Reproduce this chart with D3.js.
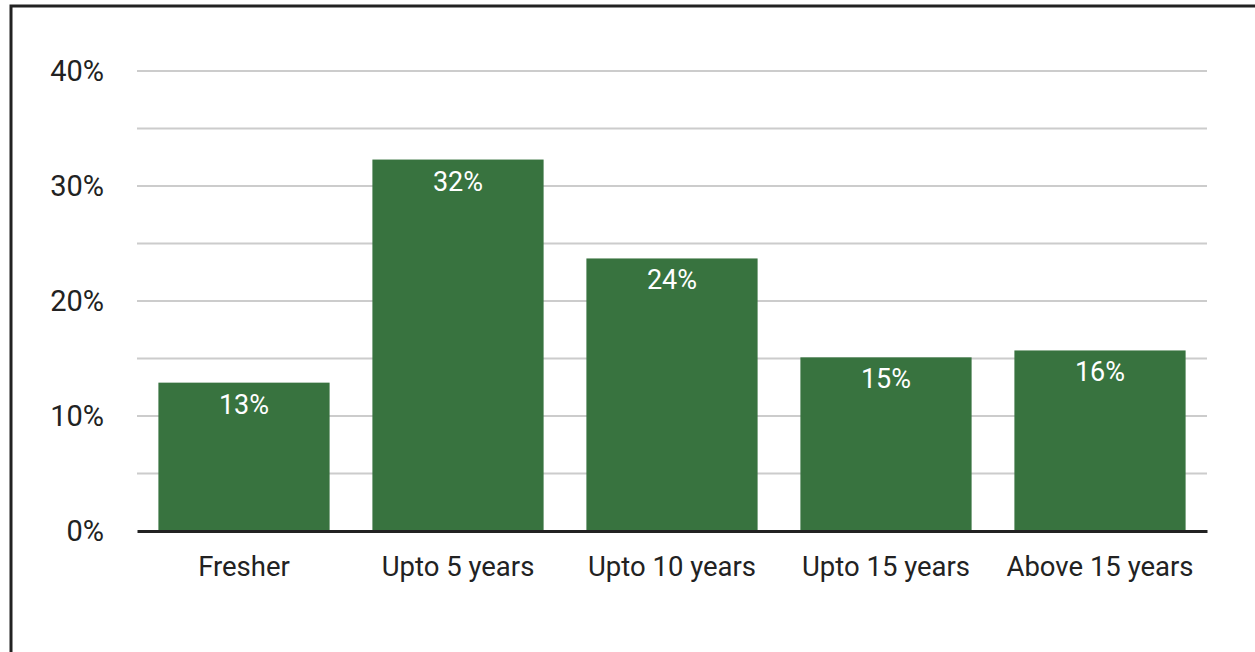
<!DOCTYPE html>
<html>
<head>
  <meta charset="UTF-8">
  <script src="https://d3js.org/d3.v7.min.js"></script>
  <style>
    body { margin: 0; background: #fff; font-family: Roboto, sans-serif; }
  </style>
</head>
<body>
  <svg width="1255" height="652"></svg>
  <script>
    const categories = ["Fresher", "Upto 5 years", "Upto 10 years", "Upto 15 years", "Above 15 years"];
    const values = [12.9, 32.3, 23.7, 15.1, 15.7];
    const valueLabels = ["13%", "32%", "24%", "15%", "16%"];
    const majorTicks = [0, 10, 20, 30, 40];
    const minorTicks = [5, 15, 25, 35];

    const svg = d3.select("svg");
    const plotLeft = 137, plotRight = 1207, plotTop = 71, plotBottom = 531;

    // frame, cropped on the right and bottom
    svg.append("rect")
      .attr("x", 11).attr("y", 6)
      .attr("width", 1300).attr("height", 700)
      .attr("fill", "none")
      .attr("stroke", "#222")
      .attr("stroke-width", 3);

    const x = d3.scaleBand()
      .domain(categories)
      .range([plotLeft, plotRight])
      .paddingInner(0.2)
      .paddingOuter(0.1);

    const y = d3.scaleLinear()
      .domain([0, 40])
      .range([plotBottom, plotTop]);

    // gridlines
    svg.append("g")
      .selectAll("line")
      .data(majorTicks.concat(minorTicks).filter(d => d > 0))
      .enter()
      .append("line")
      .attr("x1", plotLeft).attr("x2", plotRight)
      .attr("y1", d => y(d)).attr("y2", d => y(d))
      .attr("stroke", "#cccccc")
      .attr("stroke-width", 2);

    // y tick labels
    const yAxis = d3.axisLeft(y)
      .tickValues(majorTicks)
      .tickFormat(d => d + "%")
      .tickSize(0)
      .tickPadding(33);
    const yg = svg.append("g")
      .attr("transform", `translate(${plotLeft},0)`)
      .call(yAxis);
    yg.select(".domain").remove();
    yg.selectAll("text")
      .attr("font-family", "Roboto, sans-serif")
      .attr("font-size", 29)
      .attr("fill", "#222");

    // bars
    svg.append("g")
      .selectAll("rect")
      .data(values)
      .enter()
      .append("rect")
      .attr("x", (d, i) => x(categories[i]))
      .attr("y", d => y(d))
      .attr("width", x.bandwidth())
      .attr("height", d => y(0) - y(d))
      .attr("fill", "#38733f");

    // value labels
    svg.append("g")
      .selectAll("text")
      .data(values)
      .enter()
      .append("text")
      .attr("x", (d, i) => x(categories[i]) + x.bandwidth() / 2)
      .attr("y", d => y(d) + 31)
      .attr("text-anchor", "middle")
      .attr("font-family", "Roboto, sans-serif")
      .attr("font-size", 27)
      .attr("fill", "#fff")
      .text((d, i) => valueLabels[i]);

    // x axis
    const xAxis = d3.axisBottom(x).tickSize(0).tickPadding(25);
    const xg = svg.append("g")
      .attr("transform", `translate(0,${plotBottom})`)
      .call(xAxis);
    xg.select(".domain")
      .attr("stroke", "#222")
      .attr("stroke-width", 3);
    xg.selectAll("text")
      .attr("font-family", "Roboto, sans-serif")
      .attr("font-size", 27.5)
      .attr("fill", "#222");
  </script>
</body>
</html>
